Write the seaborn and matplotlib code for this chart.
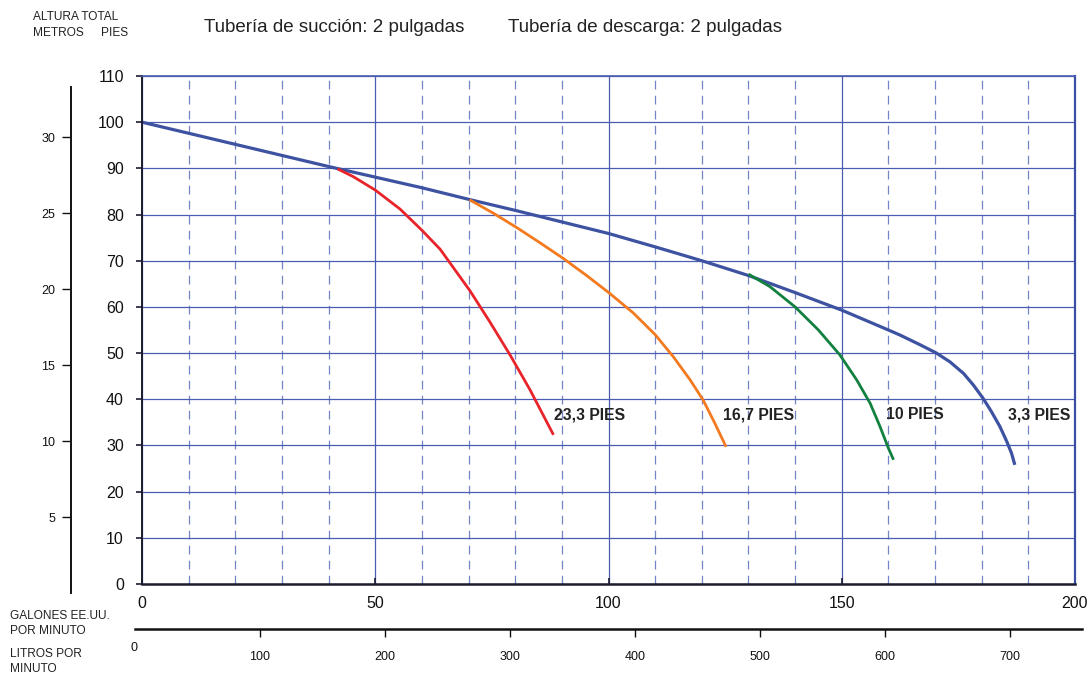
import matplotlib
matplotlib.use("Agg")
import matplotlib.pyplot as plt
from matplotlib.ticker import MultipleLocator
import seaborn as sns
import pandas as pd

# curve data: flow (US gal/min) vs total head (ft)
gal_33 = [0, 10, 20, 30, 40, 50, 60, 70, 80, 90, 100, 110, 120, 130, 140, 150,
          160, 162.5, 166.8, 170.3, 173.2, 176.1, 178.2, 180.3, 182.1, 183.9,
          185.4, 186.4, 187.1]
ft_33 = [100, 97.6, 95.2, 92.8, 90.4, 88.1, 85.8, 83.3, 80.9, 78.4, 75.9, 73.0,
         70.0, 66.8, 63.1, 59.3, 55.0, 53.9, 51.8, 50.0, 48.1, 45.6, 43.1, 40.2,
         37.3, 34.1, 30.8, 28.3, 25.8]

gal_233 = [41.9, 45.3, 50, 55.3, 60, 63.9, 70.3, 74.6, 78.9, 83.2, 88.2]
ft_233 = [89.9, 88.2, 85.3, 81.2, 76.6, 72.5, 63.5, 56.7, 49.6, 42.0, 32.3]

gal_167 = [70.2, 75.3, 80.3, 85.3, 90.3, 95.3, 100.3, 105.3, 110, 113.9,
           117.5, 120.3, 122.8, 125.2]
ft_167 = [83.2, 80.3, 77.2, 73.9, 70.5, 66.8, 62.9, 58.7, 54.0, 49.2,
          44.2, 39.8, 34.8, 29.7]

gal_10 = [130, 134.6, 140, 145, 149.6, 153.2, 156.1, 158.2, 160, 161.1]
ft_10 = [67.1, 64.4, 60.0, 55.0, 49.6, 44.2, 39.1, 34.1, 29.4, 26.9]

curve_names = ["3,3 PIES", "23,3 PIES", "16,7 PIES", "10 PIES"]
curve_colors = ["#3d52a1", "#e8232a", "#f47a20", "#12803f"]
label_x = [185.6, 88.4, 124.5, 159.5]
label_y = [36.6, 36.6, 36.6, 36.6]

meter_ticks = [5, 10, 15, 20, 25, 30]
liter_ticks = [100, 200, 300, 400, 500, 600, 700]

W, H = 1091, 675

sns.set_theme(style="white")
plt.rcParams["font.family"] = ["Liberation Sans", "DejaVu Sans"]

fig = plt.figure(figsize=(W / 100, H / 100), dpi=100)
ax = fig.add_axes([142 / W, 1 - 584 / H, (1075 - 142) / W, (584 - 76) / H])

grid_blue = "#4a5db0"
dash_blue = "#7484c6"

ax.set_xlim(0, 200)
ax.set_ylim(0, 110)
ax.xaxis.set_major_locator(MultipleLocator(50))
ax.xaxis.set_minor_locator(MultipleLocator(10))
ax.yaxis.set_major_locator(MultipleLocator(10))
ax.grid(which="major", axis="both", color=grid_blue, lw=0.9, ls="-")
ax.grid(which="minor", axis="x", color=dash_blue, lw=0.9, ls=(0, (7, 5)))
ax.set_axisbelow(True)

for xs, ys, col, lw in [(gal_33, ft_33, curve_colors[0], 2.3),
                        (gal_233, ft_233, curve_colors[1], 2.0),
                        (gal_167, ft_167, curve_colors[2], 2.0),
                        (gal_10, ft_10, curve_colors[3], 2.0)]:
    df = pd.DataFrame({"gpm": xs, "head": ys})
    sns.lineplot(data=df, x="gpm", y="head", ax=ax, color=col, lw=lw,
                 estimator=None, sort=False, solid_capstyle="butt",
                 solid_joinstyle="round")

for name, lx, ly in zip(curve_names, label_x, label_y):
    ax.text(lx, ly, name, fontsize=11.3, fontweight="bold", color="#222222",
            ha="left", va="center")

ax.set_xlabel("")
ax.set_ylabel("")
ax.spines["left"].set_color("#1c1c30")
ax.spines["bottom"].set_color("#1c1c30")
ax.spines["left"].set_linewidth(1.4)
ax.spines["bottom"].set_linewidth(1.8)
ax.spines["top"].set_color(grid_blue)
ax.spines["right"].set_color("#3a4ea6")
ax.spines["top"].set_linewidth(1.2)
ax.spines["right"].set_linewidth(1.6)
ax.tick_params(axis="y", which="major", direction="out", length=4, width=1.2,
               color="#1c1c30", pad=9, labelsize=11.5, labelcolor="#111111", left=True)
ax.tick_params(axis="x", which="major", direction="in", length=4, width=1.2,
               color="#1c1c30", pad=9, labelsize=11.5, labelcolor="#111111", bottom=True)
ax.tick_params(axis="x", which="minor", length=0)

# meters scale on the far left
axm = fig.add_axes([71 / W, 1 - 593 / H, 0.0001, (593 - 87) / H])
axm.set_ylim(0, 33.3)
axm.set_yticks(meter_ticks)
axm.set_xticks([])
for s in ["top", "right", "bottom"]:
    axm.spines[s].set_visible(False)
axm.spines["left"].set_color("#111111")
axm.spines["left"].set_linewidth(1.4)
axm.patch.set_visible(False)
axm.tick_params(axis="y", direction="out", length=6.5, width=1.0, color="#111111",
                pad=5, labelsize=9, labelcolor="#111111", left=True)

# liters per minute scale at the bottom
axl = fig.add_axes([135 / W, 1 - 629 / H, (1082 - 135) / W, 0.0001])
axl.set_xlim(0, (1082 - 135) / 1.25)
axl.set_xticks(liter_ticks)
axl.set_yticks([])
for s in ["top", "right", "left"]:
    axl.spines[s].set_visible(False)
axl.spines["bottom"].set_color("#111111")
axl.spines["bottom"].set_linewidth(1.8)
axl.patch.set_visible(False)
axl.tick_params(axis="x", direction="out", length=6, width=1.0, color="#111111",
                pad=10, labelsize=9, labelcolor="#111111", bottom=True)


def ftext(x, y, s, **kw):
    fig.text(x / W, 1 - y / H, s, va="center", **kw)


ftext(134, 648, "0", fontsize=9, color="#111111", ha="center")
ftext(33, 17, "ALTURA TOTAL", fontsize=8.6, color="#222222")
ftext(33, 33, "METROS", fontsize=8.6, color="#222222")
ftext(101, 33, "PIES", fontsize=8.6, color="#222222")
ftext(10, 616, "GALONES EE.UU.", fontsize=8.6, color="#222222")
ftext(10, 631, "POR MINUTO", fontsize=8.6, color="#222222")
ftext(10, 654, "LITROS POR", fontsize=8.6, color="#222222")
ftext(10, 669, "MINUTO", fontsize=8.6, color="#222222")
ftext(204, 27, "Tubería de succión: 2 pulgadas", fontsize=13.5, color="#222222")
ftext(508, 27, "Tubería de descarga: 2 pulgadas", fontsize=13.5, color="#222222")

fig.savefig("out.png", dpi=100)
